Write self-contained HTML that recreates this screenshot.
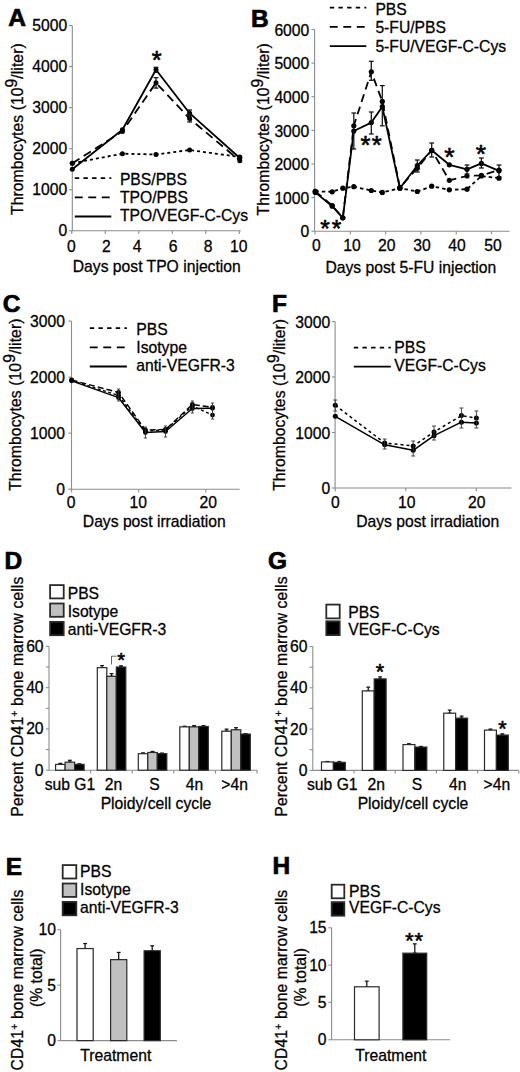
<!DOCTYPE html>
<html><head><meta charset="utf-8"><style>
html,body{margin:0;padding:0;background:#fff;}
svg{display:block;font-family:"Liberation Sans",sans-serif;}
text{stroke:#000;stroke-width:0.28px;}
</style></head><body>
<svg width="520" height="1072" viewBox="0 0 520 1072">
<rect width="520" height="1072" fill="#fff"/>
<text x="8.20" y="26.00" font-size="24.5" text-anchor="start" font-weight="bold" style="stroke-width:0.7px">A</text>
<line x1="72.30" y1="25.50" x2="72.30" y2="230.80" stroke="#8c8c8c" stroke-width="1.1"/>
<line x1="69.10" y1="230.80" x2="72.30" y2="230.80" stroke="#8c8c8c" stroke-width="1.1"/>
<line x1="69.10" y1="189.74" x2="72.30" y2="189.74" stroke="#8c8c8c" stroke-width="1.1"/>
<line x1="69.10" y1="148.68" x2="72.30" y2="148.68" stroke="#8c8c8c" stroke-width="1.1"/>
<line x1="69.10" y1="107.62" x2="72.30" y2="107.62" stroke="#8c8c8c" stroke-width="1.1"/>
<line x1="69.10" y1="66.56" x2="72.30" y2="66.56" stroke="#8c8c8c" stroke-width="1.1"/>
<line x1="69.10" y1="25.50" x2="72.30" y2="25.50" stroke="#8c8c8c" stroke-width="1.1"/>
<text x="67.20" y="236.30" font-size="15.7" text-anchor="end" font-weight="normal" >0</text>
<text x="67.20" y="195.24" font-size="15.7" text-anchor="end" font-weight="normal" >1000</text>
<text x="67.20" y="154.18" font-size="15.7" text-anchor="end" font-weight="normal" >2000</text>
<text x="67.20" y="113.12" font-size="15.7" text-anchor="end" font-weight="normal" >3000</text>
<text x="67.20" y="72.06" font-size="15.7" text-anchor="end" font-weight="normal" >4000</text>
<text x="67.20" y="31.00" font-size="15.7" text-anchor="end" font-weight="normal" >5000</text>
<line x1="72.30" y1="230.80" x2="240.80" y2="230.80" stroke="#8c8c8c" stroke-width="1.1"/>
<line x1="71.80" y1="230.80" x2="71.80" y2="234.00" stroke="#8c8c8c" stroke-width="1.1"/>
<line x1="105.30" y1="230.80" x2="105.30" y2="234.00" stroke="#8c8c8c" stroke-width="1.1"/>
<line x1="138.80" y1="230.80" x2="138.80" y2="234.00" stroke="#8c8c8c" stroke-width="1.1"/>
<line x1="172.30" y1="230.80" x2="172.30" y2="234.00" stroke="#8c8c8c" stroke-width="1.1"/>
<line x1="205.80" y1="230.80" x2="205.80" y2="234.00" stroke="#8c8c8c" stroke-width="1.1"/>
<line x1="239.30" y1="230.80" x2="239.30" y2="234.00" stroke="#8c8c8c" stroke-width="1.1"/>
<text x="71.35" y="251.70" font-size="15.7" text-anchor="middle" font-weight="normal" >0</text>
<text x="106.30" y="251.70" font-size="15.7" text-anchor="middle" font-weight="normal" >2</text>
<text x="137.00" y="251.70" font-size="15.7" text-anchor="middle" font-weight="normal" >4</text>
<text x="173.00" y="251.70" font-size="15.7" text-anchor="middle" font-weight="normal" >6</text>
<text x="208.00" y="251.70" font-size="15.7" text-anchor="middle" font-weight="normal" >8</text>
<text x="238.70" y="251.70" font-size="15.7" text-anchor="middle" font-weight="normal" >10</text>
<text x="156.75" y="272.40" font-size="15.7" text-anchor="middle" font-weight="normal" >Days post TPO injection</text>
<text transform="translate(23.10,215.00) rotate(-90)" font-size="15.7" textLength="171.70" lengthAdjust="spacing"><tspan baseline-shift="0" font-size="15.7">Thrombocytes (10</tspan><tspan baseline-shift="6" font-size="15.7">9</tspan><tspan baseline-shift="0" font-size="15.7">/liter)</tspan></text>
<polyline points="72.30,163.20 122.40,153.70 156.00,154.50 189.60,150.00 239.80,157.00" fill="none" stroke="#000" stroke-width="1.8" stroke-linejoin="round" stroke-dasharray="3,3"/>
<polyline points="72.30,163.20 122.40,131.40 156.00,82.80 189.60,118.60 239.80,160.70" fill="none" stroke="#000" stroke-width="1.8" stroke-linejoin="round" stroke-dasharray="8.5,5"/>
<polyline points="72.30,169.20 122.40,129.80 156.00,69.80 189.60,113.20 239.80,158.00" fill="none" stroke="#000" stroke-width="1.8" stroke-linejoin="round"/>
<circle cx="72.30" cy="163.20" r="2.5" fill="#000"/>
<circle cx="122.40" cy="153.70" r="2.5" fill="#000"/>
<circle cx="156.00" cy="154.50" r="2.5" fill="#000"/>
<circle cx="189.60" cy="150.00" r="2.5" fill="#000"/>
<circle cx="239.80" cy="157.00" r="2.5" fill="#000"/>
<circle cx="72.30" cy="163.20" r="2.5" fill="#000"/>
<circle cx="122.40" cy="131.40" r="2.5" fill="#000"/>
<circle cx="156.00" cy="82.80" r="2.5" fill="#000"/>
<circle cx="189.60" cy="118.60" r="2.5" fill="#000"/>
<circle cx="239.80" cy="160.70" r="2.5" fill="#000"/>
<circle cx="72.30" cy="169.20" r="2.5" fill="#000"/>
<circle cx="122.40" cy="129.80" r="2.5" fill="#000"/>
<circle cx="156.00" cy="69.80" r="2.5" fill="#000"/>
<circle cx="189.60" cy="113.20" r="2.5" fill="#000"/>
<circle cx="239.80" cy="158.00" r="2.5" fill="#000"/>
<line x1="156.00" y1="67.30" x2="156.00" y2="72.30" stroke="#111" stroke-width="1.25"/>
<line x1="153.60" y1="67.30" x2="158.40" y2="67.30" stroke="#111" stroke-width="1.25"/>
<line x1="153.60" y1="72.30" x2="158.40" y2="72.30" stroke="#111" stroke-width="1.25"/>
<line x1="156.00" y1="77.70" x2="156.00" y2="88.10" stroke="#111" stroke-width="1.25"/>
<line x1="153.60" y1="77.70" x2="158.40" y2="77.70" stroke="#111" stroke-width="1.25"/>
<line x1="153.60" y1="88.10" x2="158.40" y2="88.10" stroke="#111" stroke-width="1.25"/>
<line x1="189.60" y1="110.00" x2="189.60" y2="116.00" stroke="#111" stroke-width="1.25"/>
<line x1="187.20" y1="110.00" x2="192.00" y2="110.00" stroke="#111" stroke-width="1.25"/>
<line x1="187.20" y1="116.00" x2="192.00" y2="116.00" stroke="#111" stroke-width="1.25"/>
<line x1="189.60" y1="115.00" x2="189.60" y2="122.00" stroke="#111" stroke-width="1.25"/>
<line x1="187.20" y1="115.00" x2="192.00" y2="115.00" stroke="#111" stroke-width="1.25"/>
<line x1="187.20" y1="122.00" x2="192.00" y2="122.00" stroke="#111" stroke-width="1.25"/>
<text x="156.70" y="68.59" font-size="25.5" text-anchor="middle" font-weight="normal" style="stroke-width:0.6px">*</text>
<line x1="74.80" y1="178.10" x2="111.30" y2="178.10" stroke="#000" stroke-width="1.8" stroke-dasharray="4.4,4.25"/>
<text x="119.90" y="184.60" font-size="15.7" text-anchor="start" font-weight="normal" >PBS/PBS</text>
<line x1="74.80" y1="197.30" x2="111.30" y2="197.30" stroke="#000" stroke-width="1.8" stroke-dasharray="7.9,5.6"/>
<text x="119.90" y="202.95" font-size="15.7" text-anchor="start" font-weight="normal" >TPO/PBS</text>
<line x1="74.80" y1="216.50" x2="111.30" y2="216.50" stroke="#000" stroke-width="1.8"/>
<text x="119.90" y="221.30" font-size="15.7" text-anchor="start" font-weight="normal" >TPO/VEGF-C-Cys</text>
<text x="251.00" y="27.10" font-size="24.5" text-anchor="start" font-weight="bold" style="stroke-width:0.7px">B</text>
<line x1="314.60" y1="29.30" x2="314.60" y2="231.20" stroke="#8c8c8c" stroke-width="1.1"/>
<line x1="311.40" y1="231.20" x2="314.60" y2="231.20" stroke="#8c8c8c" stroke-width="1.1"/>
<line x1="311.40" y1="197.58" x2="314.60" y2="197.58" stroke="#8c8c8c" stroke-width="1.1"/>
<line x1="311.40" y1="163.97" x2="314.60" y2="163.97" stroke="#8c8c8c" stroke-width="1.1"/>
<line x1="311.40" y1="130.35" x2="314.60" y2="130.35" stroke="#8c8c8c" stroke-width="1.1"/>
<line x1="311.40" y1="96.73" x2="314.60" y2="96.73" stroke="#8c8c8c" stroke-width="1.1"/>
<line x1="311.40" y1="63.12" x2="314.60" y2="63.12" stroke="#8c8c8c" stroke-width="1.1"/>
<line x1="311.40" y1="29.50" x2="314.60" y2="29.50" stroke="#8c8c8c" stroke-width="1.1"/>
<text x="309.30" y="237.40" font-size="15.7" text-anchor="end" font-weight="normal" >0</text>
<text x="309.30" y="203.78" font-size="15.7" text-anchor="end" font-weight="normal" >1000</text>
<text x="309.30" y="170.17" font-size="15.7" text-anchor="end" font-weight="normal" >2000</text>
<text x="309.30" y="136.55" font-size="15.7" text-anchor="end" font-weight="normal" >3000</text>
<text x="309.30" y="102.93" font-size="15.7" text-anchor="end" font-weight="normal" >4000</text>
<text x="309.30" y="69.32" font-size="15.7" text-anchor="end" font-weight="normal" >5000</text>
<text x="309.30" y="35.70" font-size="15.7" text-anchor="end" font-weight="normal" >6000</text>
<line x1="314.60" y1="231.20" x2="509.50" y2="231.20" stroke="#8c8c8c" stroke-width="1.1"/>
<line x1="315.00" y1="231.20" x2="315.00" y2="234.40" stroke="#8c8c8c" stroke-width="1.1"/>
<line x1="350.30" y1="231.20" x2="350.30" y2="234.40" stroke="#8c8c8c" stroke-width="1.1"/>
<line x1="385.60" y1="231.20" x2="385.60" y2="234.40" stroke="#8c8c8c" stroke-width="1.1"/>
<line x1="420.90" y1="231.20" x2="420.90" y2="234.40" stroke="#8c8c8c" stroke-width="1.1"/>
<line x1="456.20" y1="231.20" x2="456.20" y2="234.40" stroke="#8c8c8c" stroke-width="1.1"/>
<line x1="491.50" y1="231.20" x2="491.50" y2="234.40" stroke="#8c8c8c" stroke-width="1.1"/>
<text x="316.35" y="251.40" font-size="15.7" text-anchor="middle" font-weight="normal" >0</text>
<text x="352.10" y="251.40" font-size="15.7" text-anchor="middle" font-weight="normal" >10</text>
<text x="386.70" y="251.40" font-size="15.7" text-anchor="middle" font-weight="normal" >20</text>
<text x="422.10" y="251.40" font-size="15.7" text-anchor="middle" font-weight="normal" >30</text>
<text x="456.90" y="251.40" font-size="15.7" text-anchor="middle" font-weight="normal" >40</text>
<text x="493.00" y="251.40" font-size="15.7" text-anchor="middle" font-weight="normal" >50</text>
<text x="410.85" y="272.60" font-size="15.7" text-anchor="middle" font-weight="normal" >Days post 5-FU injection</text>
<text transform="translate(269.20,215.40) rotate(-90)" font-size="15.7" textLength="172.20" lengthAdjust="spacing"><tspan baseline-shift="0" font-size="15.7">Thrombocytes (10</tspan><tspan baseline-shift="6" font-size="15.7">9</tspan><tspan baseline-shift="0" font-size="15.7">/liter)</tspan></text>
<polyline points="315.30,191.40 332.20,191.80 342.80,188.20 353.80,186.70 371.30,190.50 382.30,192.40 399.90,188.20 417.30,191.50 431.70,186.20 449.30,189.80 467.00,189.20 481.40,176.00 499.00,178.20" fill="none" stroke="#000" stroke-width="1.8" stroke-linejoin="round" stroke-dasharray="3.5,3"/>
<polyline points="315.30,191.40 332.20,205.50 342.80,217.80 353.80,125.80 371.30,71.80 382.30,101.40 399.90,187.50 417.30,168.20 431.70,150.30 449.30,180.30 467.00,176.00 481.40,175.40 499.00,170.00" fill="none" stroke="#000" stroke-width="1.8" stroke-linejoin="round" stroke-dasharray="8,5"/>
<polyline points="315.30,192.40 332.20,206.20 342.80,217.80 353.80,131.00 371.30,122.60 382.30,106.70 399.90,188.20 417.30,165.50 431.70,150.30 449.30,164.80 467.00,169.30 481.40,163.40 499.00,170.80" fill="none" stroke="#000" stroke-width="1.8" stroke-linejoin="round"/>
<circle cx="315.30" cy="191.40" r="2.6" fill="#000"/>
<circle cx="332.20" cy="191.80" r="2.6" fill="#000"/>
<circle cx="342.80" cy="188.20" r="2.6" fill="#000"/>
<circle cx="353.80" cy="186.70" r="2.6" fill="#000"/>
<circle cx="371.30" cy="190.50" r="2.6" fill="#000"/>
<circle cx="382.30" cy="192.40" r="2.6" fill="#000"/>
<circle cx="399.90" cy="188.20" r="2.6" fill="#000"/>
<circle cx="417.30" cy="191.50" r="2.6" fill="#000"/>
<circle cx="431.70" cy="186.20" r="2.6" fill="#000"/>
<circle cx="449.30" cy="189.80" r="2.6" fill="#000"/>
<circle cx="467.00" cy="189.20" r="2.6" fill="#000"/>
<circle cx="481.40" cy="176.00" r="2.6" fill="#000"/>
<circle cx="499.00" cy="178.20" r="2.6" fill="#000"/>
<circle cx="315.30" cy="191.40" r="2.6" fill="#000"/>
<circle cx="332.20" cy="205.50" r="2.6" fill="#000"/>
<circle cx="342.80" cy="217.80" r="2.6" fill="#000"/>
<circle cx="353.80" cy="125.80" r="2.6" fill="#000"/>
<circle cx="371.30" cy="71.80" r="2.6" fill="#000"/>
<circle cx="382.30" cy="101.40" r="2.6" fill="#000"/>
<circle cx="399.90" cy="187.50" r="2.6" fill="#000"/>
<circle cx="417.30" cy="168.20" r="2.6" fill="#000"/>
<circle cx="431.70" cy="150.30" r="2.6" fill="#000"/>
<circle cx="449.30" cy="180.30" r="2.6" fill="#000"/>
<circle cx="467.00" cy="176.00" r="2.6" fill="#000"/>
<circle cx="481.40" cy="175.40" r="2.6" fill="#000"/>
<circle cx="499.00" cy="170.00" r="2.6" fill="#000"/>
<circle cx="315.30" cy="192.40" r="2.6" fill="#000"/>
<circle cx="332.20" cy="206.20" r="2.6" fill="#000"/>
<circle cx="342.80" cy="217.80" r="2.6" fill="#000"/>
<circle cx="353.80" cy="131.00" r="2.6" fill="#000"/>
<circle cx="371.30" cy="122.60" r="2.6" fill="#000"/>
<circle cx="382.30" cy="106.70" r="2.6" fill="#000"/>
<circle cx="399.90" cy="188.20" r="2.6" fill="#000"/>
<circle cx="417.30" cy="165.50" r="2.6" fill="#000"/>
<circle cx="431.70" cy="150.30" r="2.6" fill="#000"/>
<circle cx="449.30" cy="164.80" r="2.6" fill="#000"/>
<circle cx="467.00" cy="169.30" r="2.6" fill="#000"/>
<circle cx="481.40" cy="163.40" r="2.6" fill="#000"/>
<circle cx="499.00" cy="170.80" r="2.6" fill="#000"/>
<line x1="353.80" y1="113.00" x2="353.80" y2="149.00" stroke="#111" stroke-width="1.25"/>
<line x1="351.40" y1="113.00" x2="356.20" y2="113.00" stroke="#111" stroke-width="1.25"/>
<line x1="351.40" y1="149.00" x2="356.20" y2="149.00" stroke="#111" stroke-width="1.25"/>
<line x1="371.30" y1="61.30" x2="371.30" y2="80.30" stroke="#111" stroke-width="1.25"/>
<line x1="368.90" y1="61.30" x2="373.70" y2="61.30" stroke="#111" stroke-width="1.25"/>
<line x1="368.90" y1="80.30" x2="373.70" y2="80.30" stroke="#111" stroke-width="1.25"/>
<line x1="371.30" y1="112.00" x2="371.30" y2="134.00" stroke="#111" stroke-width="1.25"/>
<line x1="368.90" y1="112.00" x2="373.70" y2="112.00" stroke="#111" stroke-width="1.25"/>
<line x1="368.90" y1="134.00" x2="373.70" y2="134.00" stroke="#111" stroke-width="1.25"/>
<line x1="382.30" y1="85.60" x2="382.30" y2="125.80" stroke="#111" stroke-width="1.25"/>
<line x1="379.90" y1="85.60" x2="384.70" y2="85.60" stroke="#111" stroke-width="1.25"/>
<line x1="379.90" y1="125.80" x2="384.70" y2="125.80" stroke="#111" stroke-width="1.25"/>
<line x1="417.30" y1="160.00" x2="417.30" y2="172.00" stroke="#111" stroke-width="1.25"/>
<line x1="414.90" y1="160.00" x2="419.70" y2="160.00" stroke="#111" stroke-width="1.25"/>
<line x1="414.90" y1="172.00" x2="419.70" y2="172.00" stroke="#111" stroke-width="1.25"/>
<line x1="431.70" y1="143.00" x2="431.70" y2="157.00" stroke="#111" stroke-width="1.25"/>
<line x1="429.30" y1="143.00" x2="434.10" y2="143.00" stroke="#111" stroke-width="1.25"/>
<line x1="429.30" y1="157.00" x2="434.10" y2="157.00" stroke="#111" stroke-width="1.25"/>
<line x1="481.40" y1="158.00" x2="481.40" y2="168.00" stroke="#111" stroke-width="1.25"/>
<line x1="479.00" y1="158.00" x2="483.80" y2="158.00" stroke="#111" stroke-width="1.25"/>
<line x1="479.00" y1="168.00" x2="483.80" y2="168.00" stroke="#111" stroke-width="1.25"/>
<line x1="499.00" y1="165.00" x2="499.00" y2="177.00" stroke="#111" stroke-width="1.25"/>
<line x1="496.60" y1="165.00" x2="501.40" y2="165.00" stroke="#111" stroke-width="1.25"/>
<line x1="496.60" y1="177.00" x2="501.40" y2="177.00" stroke="#111" stroke-width="1.25"/>
<line x1="467.00" y1="165.00" x2="467.00" y2="174.00" stroke="#111" stroke-width="1.25"/>
<line x1="464.60" y1="165.00" x2="469.40" y2="165.00" stroke="#111" stroke-width="1.25"/>
<line x1="464.60" y1="174.00" x2="469.40" y2="174.00" stroke="#111" stroke-width="1.25"/>
<text x="365.40" y="153.79" font-size="25.5" text-anchor="middle" font-weight="normal" style="stroke-width:0.6px">*</text>
<text x="376.70" y="153.79" font-size="25.5" text-anchor="middle" font-weight="normal" style="stroke-width:0.6px">*</text>
<text x="325.00" y="237.10" font-size="24.5" text-anchor="middle" font-weight="normal" style="stroke-width:0.6px">*</text>
<text x="336.50" y="237.10" font-size="24.5" text-anchor="middle" font-weight="normal" style="stroke-width:0.6px">*</text>
<text x="449.50" y="165.98" font-size="26.5" text-anchor="middle" font-weight="normal" style="stroke-width:0.6px">*</text>
<text x="481.00" y="162.58" font-size="26.5" text-anchor="middle" font-weight="normal" style="stroke-width:0.6px">*</text>
<line x1="329.80" y1="7.70" x2="366.30" y2="7.70" stroke="#000" stroke-width="1.8" stroke-dasharray="4.4,4.25"/>
<text x="375.40" y="14.60" font-size="15.7" text-anchor="start" font-weight="normal" >PBS</text>
<line x1="329.80" y1="26.95" x2="366.30" y2="26.95" stroke="#000" stroke-width="1.8" stroke-dasharray="7.9,5.6"/>
<text x="375.40" y="33.10" font-size="15.7" text-anchor="start" font-weight="normal" >5-FU/PBS</text>
<line x1="329.80" y1="46.20" x2="366.30" y2="46.20" stroke="#000" stroke-width="1.8"/>
<text x="375.40" y="51.60" font-size="15.7" text-anchor="start" font-weight="normal" >5-FU/VEGF-C-Cys</text>
<text x="2.80" y="311.80" font-size="24.5" text-anchor="start" font-weight="bold" style="stroke-width:0.7px">C</text>
<line x1="71.50" y1="321.10" x2="71.50" y2="489.20" stroke="#8c8c8c" stroke-width="1.1"/>
<line x1="68.30" y1="489.20" x2="71.50" y2="489.20" stroke="#8c8c8c" stroke-width="1.1"/>
<line x1="68.30" y1="433.17" x2="71.50" y2="433.17" stroke="#8c8c8c" stroke-width="1.1"/>
<line x1="68.30" y1="377.13" x2="71.50" y2="377.13" stroke="#8c8c8c" stroke-width="1.1"/>
<line x1="68.30" y1="321.10" x2="71.50" y2="321.10" stroke="#8c8c8c" stroke-width="1.1"/>
<text x="65.00" y="494.70" font-size="15.7" text-anchor="end" font-weight="normal" >0</text>
<text x="65.00" y="438.67" font-size="15.7" text-anchor="end" font-weight="normal" >1000</text>
<text x="65.00" y="382.63" font-size="15.7" text-anchor="end" font-weight="normal" >2000</text>
<text x="65.00" y="326.60" font-size="15.7" text-anchor="end" font-weight="normal" >3000</text>
<line x1="71.50" y1="489.20" x2="239.70" y2="489.20" stroke="#8c8c8c" stroke-width="1.1"/>
<line x1="71.60" y1="489.20" x2="71.60" y2="492.40" stroke="#8c8c8c" stroke-width="1.1"/>
<line x1="138.70" y1="489.20" x2="138.70" y2="492.40" stroke="#8c8c8c" stroke-width="1.1"/>
<line x1="205.80" y1="489.20" x2="205.80" y2="492.40" stroke="#8c8c8c" stroke-width="1.1"/>
<text x="71.20" y="507.90" font-size="15.7" text-anchor="middle" font-weight="normal" >0</text>
<text x="138.20" y="507.90" font-size="15.7" text-anchor="middle" font-weight="normal" >10</text>
<text x="208.30" y="507.90" font-size="15.7" text-anchor="middle" font-weight="normal" >20</text>
<text x="154.30" y="527.20" font-size="15.7" text-anchor="middle" font-weight="normal" >Days post irradiation</text>
<text transform="translate(21.00,490.80) rotate(-90)" font-size="15.7" textLength="172.30" lengthAdjust="spacing"><tspan baseline-shift="0" font-size="15.7">Thrombocytes (10</tspan><tspan baseline-shift="6" font-size="15.7">9</tspan><tspan baseline-shift="0" font-size="15.7">/liter)</tspan></text>
<polyline points="71.60,380.40 118.57,395.50 145.41,431.00 165.54,430.00 192.38,406.00 212.51,415.10" fill="none" stroke="#000" stroke-width="1.4" stroke-linejoin="round" stroke-dasharray="3,2.5"/>
<polyline points="71.60,380.00 118.57,392.50 145.41,430.00 165.54,429.50 192.38,404.50 212.51,407.30" fill="none" stroke="#000" stroke-width="1.4" stroke-linejoin="round" stroke-dasharray="6,3"/>
<polyline points="71.60,380.80 118.57,397.70 145.41,432.50 165.54,431.50 192.38,408.50 212.51,408.30" fill="none" stroke="#000" stroke-width="1.4" stroke-linejoin="round"/>
<circle cx="71.60" cy="380.40" r="2.4" fill="#000"/>
<circle cx="118.57" cy="395.50" r="2.4" fill="#000"/>
<circle cx="145.41" cy="431.00" r="2.4" fill="#000"/>
<circle cx="165.54" cy="430.00" r="2.4" fill="#000"/>
<circle cx="192.38" cy="406.00" r="2.4" fill="#000"/>
<circle cx="212.51" cy="415.10" r="2.4" fill="#000"/>
<circle cx="71.60" cy="380.00" r="2.4" fill="#000"/>
<circle cx="118.57" cy="392.50" r="2.4" fill="#000"/>
<circle cx="145.41" cy="430.00" r="2.4" fill="#000"/>
<circle cx="165.54" cy="429.50" r="2.4" fill="#000"/>
<circle cx="192.38" cy="404.50" r="2.4" fill="#000"/>
<circle cx="212.51" cy="407.30" r="2.4" fill="#000"/>
<circle cx="71.60" cy="380.80" r="2.4" fill="#000"/>
<circle cx="118.57" cy="397.70" r="2.4" fill="#000"/>
<circle cx="145.41" cy="432.50" r="2.4" fill="#000"/>
<circle cx="165.54" cy="431.50" r="2.4" fill="#000"/>
<circle cx="192.38" cy="408.50" r="2.4" fill="#000"/>
<circle cx="212.51" cy="408.30" r="2.4" fill="#000"/>
<line x1="118.57" y1="389.00" x2="118.57" y2="401.00" stroke="#333" stroke-width="0.9"/>
<line x1="116.97" y1="389.00" x2="120.17" y2="389.00" stroke="#333" stroke-width="0.9"/>
<line x1="116.97" y1="401.00" x2="120.17" y2="401.00" stroke="#333" stroke-width="0.9"/>
<line x1="145.41" y1="427.00" x2="145.41" y2="438.00" stroke="#333" stroke-width="0.9"/>
<line x1="143.81" y1="427.00" x2="147.01" y2="427.00" stroke="#333" stroke-width="0.9"/>
<line x1="143.81" y1="438.00" x2="147.01" y2="438.00" stroke="#333" stroke-width="0.9"/>
<line x1="165.54" y1="426.00" x2="165.54" y2="437.00" stroke="#333" stroke-width="0.9"/>
<line x1="163.94" y1="426.00" x2="167.14" y2="426.00" stroke="#333" stroke-width="0.9"/>
<line x1="163.94" y1="437.00" x2="167.14" y2="437.00" stroke="#333" stroke-width="0.9"/>
<line x1="192.38" y1="401.00" x2="192.38" y2="413.00" stroke="#333" stroke-width="0.9"/>
<line x1="190.78" y1="401.00" x2="193.98" y2="401.00" stroke="#333" stroke-width="0.9"/>
<line x1="190.78" y1="413.00" x2="193.98" y2="413.00" stroke="#333" stroke-width="0.9"/>
<line x1="212.51" y1="403.00" x2="212.51" y2="419.00" stroke="#333" stroke-width="0.9"/>
<line x1="210.91" y1="403.00" x2="214.11" y2="403.00" stroke="#333" stroke-width="0.9"/>
<line x1="210.91" y1="419.00" x2="214.11" y2="419.00" stroke="#333" stroke-width="0.9"/>
<line x1="89.80" y1="328.10" x2="126.90" y2="328.10" stroke="#000" stroke-width="1.8" stroke-dasharray="4.4,4.25"/>
<text x="136.30" y="334.60" font-size="15.7" text-anchor="start" font-weight="normal" >PBS</text>
<line x1="89.80" y1="347.30" x2="126.90" y2="347.30" stroke="#000" stroke-width="1.8" stroke-dasharray="7.9,5.6"/>
<text x="136.30" y="352.90" font-size="15.7" text-anchor="start" font-weight="normal" >Isotype</text>
<line x1="89.80" y1="366.50" x2="126.90" y2="366.50" stroke="#000" stroke-width="1.8"/>
<text x="136.30" y="371.20" font-size="15.7" text-anchor="start" font-weight="normal" >anti-VEGFR-3</text>
<text x="271.90" y="312.20" font-size="24.5" text-anchor="start" font-weight="bold" style="stroke-width:0.7px">F</text>
<line x1="335.10" y1="321.50" x2="335.10" y2="488.00" stroke="#8c8c8c" stroke-width="1.1"/>
<line x1="331.90" y1="488.00" x2="335.10" y2="488.00" stroke="#8c8c8c" stroke-width="1.1"/>
<line x1="331.90" y1="432.50" x2="335.10" y2="432.50" stroke="#8c8c8c" stroke-width="1.1"/>
<line x1="331.90" y1="377.00" x2="335.10" y2="377.00" stroke="#8c8c8c" stroke-width="1.1"/>
<line x1="331.90" y1="321.50" x2="335.10" y2="321.50" stroke="#8c8c8c" stroke-width="1.1"/>
<text x="330.20" y="494.40" font-size="15.7" text-anchor="end" font-weight="normal" >0</text>
<text x="330.20" y="438.90" font-size="15.7" text-anchor="end" font-weight="normal" >1000</text>
<text x="330.20" y="383.40" font-size="15.7" text-anchor="end" font-weight="normal" >2000</text>
<text x="330.20" y="327.90" font-size="15.7" text-anchor="end" font-weight="normal" >3000</text>
<line x1="335.20" y1="488.00" x2="511.50" y2="488.00" stroke="#8c8c8c" stroke-width="1.1"/>
<line x1="335.30" y1="488.00" x2="335.30" y2="491.20" stroke="#8c8c8c" stroke-width="1.1"/>
<line x1="405.80" y1="488.00" x2="405.80" y2="491.20" stroke="#8c8c8c" stroke-width="1.1"/>
<line x1="476.30" y1="488.00" x2="476.30" y2="491.20" stroke="#8c8c8c" stroke-width="1.1"/>
<text x="335.30" y="507.70" font-size="15.7" text-anchor="middle" font-weight="normal" >0</text>
<text x="406.80" y="507.70" font-size="15.7" text-anchor="middle" font-weight="normal" >10</text>
<text x="476.80" y="507.70" font-size="15.7" text-anchor="middle" font-weight="normal" >20</text>
<text x="427.65" y="527.20" font-size="15.7" text-anchor="middle" font-weight="normal" >Days post irradiation</text>
<text transform="translate(285.30,490.80) rotate(-90)" font-size="15.7" textLength="171.90" lengthAdjust="spacing"><tspan baseline-shift="0" font-size="15.7">Thrombocytes (10</tspan><tspan baseline-shift="6" font-size="15.7">9</tspan><tspan baseline-shift="0" font-size="15.7">/liter)</tspan></text>
<polyline points="335.30,405.30 384.70,443.00 413.20,445.90 434.00,432.00 461.40,415.60 476.40,418.10" fill="none" stroke="#000" stroke-width="1.5" stroke-linejoin="round" stroke-dasharray="3,3"/>
<polyline points="335.30,416.30 384.70,444.80 413.20,450.30 434.00,435.70 461.40,422.20 476.40,422.90" fill="none" stroke="#000" stroke-width="1.5" stroke-linejoin="round"/>
<circle cx="335.30" cy="405.30" r="2.5" fill="#000"/>
<circle cx="384.70" cy="443.00" r="2.5" fill="#000"/>
<circle cx="413.20" cy="445.90" r="2.5" fill="#000"/>
<circle cx="434.00" cy="432.00" r="2.5" fill="#000"/>
<circle cx="461.40" cy="415.60" r="2.5" fill="#000"/>
<circle cx="476.40" cy="418.10" r="2.5" fill="#000"/>
<circle cx="335.30" cy="416.30" r="2.5" fill="#000"/>
<circle cx="384.70" cy="444.80" r="2.5" fill="#000"/>
<circle cx="413.20" cy="450.30" r="2.5" fill="#000"/>
<circle cx="434.00" cy="435.70" r="2.5" fill="#000"/>
<circle cx="461.40" cy="422.20" r="2.5" fill="#000"/>
<circle cx="476.40" cy="422.90" r="2.5" fill="#000"/>
<line x1="335.30" y1="400.00" x2="335.30" y2="411.00" stroke="#333" stroke-width="0.9"/>
<line x1="333.30" y1="400.00" x2="337.30" y2="400.00" stroke="#333" stroke-width="0.9"/>
<line x1="333.30" y1="411.00" x2="337.30" y2="411.00" stroke="#333" stroke-width="0.9"/>
<line x1="384.70" y1="439.00" x2="384.70" y2="449.00" stroke="#333" stroke-width="0.9"/>
<line x1="382.70" y1="439.00" x2="386.70" y2="439.00" stroke="#333" stroke-width="0.9"/>
<line x1="382.70" y1="449.00" x2="386.70" y2="449.00" stroke="#333" stroke-width="0.9"/>
<line x1="413.20" y1="441.00" x2="413.20" y2="456.00" stroke="#333" stroke-width="0.9"/>
<line x1="411.20" y1="441.00" x2="415.20" y2="441.00" stroke="#333" stroke-width="0.9"/>
<line x1="411.20" y1="456.00" x2="415.20" y2="456.00" stroke="#333" stroke-width="0.9"/>
<line x1="434.00" y1="426.00" x2="434.00" y2="440.00" stroke="#333" stroke-width="0.9"/>
<line x1="432.00" y1="426.00" x2="436.00" y2="426.00" stroke="#333" stroke-width="0.9"/>
<line x1="432.00" y1="440.00" x2="436.00" y2="440.00" stroke="#333" stroke-width="0.9"/>
<line x1="461.40" y1="408.00" x2="461.40" y2="428.00" stroke="#333" stroke-width="0.9"/>
<line x1="459.40" y1="408.00" x2="463.40" y2="408.00" stroke="#333" stroke-width="0.9"/>
<line x1="459.40" y1="428.00" x2="463.40" y2="428.00" stroke="#333" stroke-width="0.9"/>
<line x1="476.40" y1="411.00" x2="476.40" y2="428.00" stroke="#333" stroke-width="0.9"/>
<line x1="474.40" y1="411.00" x2="478.40" y2="411.00" stroke="#333" stroke-width="0.9"/>
<line x1="474.40" y1="428.00" x2="478.40" y2="428.00" stroke="#333" stroke-width="0.9"/>
<line x1="353.80" y1="347.60" x2="390.80" y2="347.60" stroke="#000" stroke-width="1.8" stroke-dasharray="4.4,4.25"/>
<text x="394.30" y="353.00" font-size="15.7" text-anchor="start" font-weight="normal" >PBS</text>
<line x1="353.80" y1="366.70" x2="390.80" y2="366.70" stroke="#000" stroke-width="1.8"/>
<text x="394.30" y="371.40" font-size="15.7" text-anchor="start" font-weight="normal" >VEGF-C-Cys</text>
<text x="4.50" y="568.80" font-size="24.5" text-anchor="start" font-weight="bold" style="stroke-width:0.7px">D</text>
<line x1="49.00" y1="646.40" x2="49.00" y2="770.20" stroke="#8c8c8c" stroke-width="1.1"/>
<line x1="45.80" y1="770.20" x2="49.00" y2="770.20" stroke="#8c8c8c" stroke-width="1.1"/>
<line x1="45.80" y1="749.57" x2="49.00" y2="749.57" stroke="#8c8c8c" stroke-width="1.1"/>
<line x1="45.80" y1="728.93" x2="49.00" y2="728.93" stroke="#8c8c8c" stroke-width="1.1"/>
<line x1="45.80" y1="708.30" x2="49.00" y2="708.30" stroke="#8c8c8c" stroke-width="1.1"/>
<line x1="45.80" y1="687.67" x2="49.00" y2="687.67" stroke="#8c8c8c" stroke-width="1.1"/>
<line x1="45.80" y1="667.03" x2="49.00" y2="667.03" stroke="#8c8c8c" stroke-width="1.1"/>
<line x1="45.80" y1="646.40" x2="49.00" y2="646.40" stroke="#8c8c8c" stroke-width="1.1"/>
<text x="43.60" y="775.70" font-size="15.7" text-anchor="end" font-weight="normal" >0</text>
<text x="43.60" y="734.43" font-size="15.7" text-anchor="end" font-weight="normal" >20</text>
<text x="43.60" y="693.17" font-size="15.7" text-anchor="end" font-weight="normal" >40</text>
<text x="43.60" y="651.90" font-size="15.7" text-anchor="end" font-weight="normal" >60</text>
<line x1="49.00" y1="770.20" x2="257.30" y2="770.20" stroke="#8c8c8c" stroke-width="1.1"/>
<line x1="90.60" y1="770.20" x2="90.60" y2="773.40" stroke="#8c8c8c" stroke-width="1.1"/>
<line x1="132.20" y1="770.20" x2="132.20" y2="773.40" stroke="#8c8c8c" stroke-width="1.1"/>
<line x1="173.80" y1="770.20" x2="173.80" y2="773.40" stroke="#8c8c8c" stroke-width="1.1"/>
<line x1="215.40" y1="770.20" x2="215.40" y2="773.40" stroke="#8c8c8c" stroke-width="1.1"/>
<line x1="257.00" y1="770.20" x2="257.00" y2="773.40" stroke="#8c8c8c" stroke-width="1.1"/>
<text x="70.00" y="790.20" font-size="15.7" text-anchor="middle" font-weight="normal" >sub G1</text>
<text x="113.60" y="790.20" font-size="15.7" text-anchor="middle" font-weight="normal" >2n</text>
<text x="154.60" y="790.20" font-size="15.7" text-anchor="middle" font-weight="normal" >S</text>
<text x="194.50" y="790.20" font-size="15.7" text-anchor="middle" font-weight="normal" >4n</text>
<text x="234.60" y="790.20" font-size="15.7" text-anchor="middle" font-weight="normal" >&gt;4n</text>
<text x="156.00" y="809.40" font-size="15.7" text-anchor="middle" font-weight="normal" >Ploidy/cell cycle</text>
<text transform="translate(23.10,816.70) rotate(-90)" font-size="15.7" textLength="240.00" lengthAdjust="spacing"><tspan baseline-shift="0" font-size="15.7">Percent CD41</tspan><tspan baseline-shift="5.2" font-size="10.5">+</tspan><tspan baseline-shift="0" font-size="15.7"> bone marrow cells</tspan></text>
<line x1="60.35" y1="763.39" x2="60.35" y2="764.42" stroke="#111" stroke-width="1.25"/>
<line x1="58.45" y1="763.39" x2="62.25" y2="763.39" stroke="#111" stroke-width="1.25"/>
<line x1="58.45" y1="764.42" x2="62.25" y2="764.42" stroke="#111" stroke-width="1.25"/>
<rect x="55.60" y="764.42" width="9.50" height="5.78" fill="#fff" stroke="#2a2a2a" stroke-width="1.2"/>
<line x1="69.85" y1="760.30" x2="69.85" y2="762.15" stroke="#111" stroke-width="1.25"/>
<line x1="67.95" y1="760.30" x2="71.75" y2="760.30" stroke="#111" stroke-width="1.25"/>
<line x1="67.95" y1="762.15" x2="71.75" y2="762.15" stroke="#111" stroke-width="1.25"/>
<rect x="65.10" y="762.15" width="9.50" height="8.05" fill="#c0c0c0" stroke="#2a2a2a" stroke-width="1.2"/>
<line x1="79.35" y1="763.80" x2="79.35" y2="764.42" stroke="#111" stroke-width="1.25"/>
<line x1="77.45" y1="763.80" x2="81.25" y2="763.80" stroke="#111" stroke-width="1.25"/>
<line x1="77.45" y1="764.42" x2="81.25" y2="764.42" stroke="#111" stroke-width="1.25"/>
<rect x="74.60" y="764.42" width="9.50" height="5.78" fill="#000" stroke="#2a2a2a" stroke-width="1.2"/>
<line x1="102.05" y1="665.59" x2="102.05" y2="667.65" stroke="#111" stroke-width="1.25"/>
<line x1="100.15" y1="665.59" x2="103.95" y2="665.59" stroke="#111" stroke-width="1.25"/>
<line x1="100.15" y1="667.65" x2="103.95" y2="667.65" stroke="#111" stroke-width="1.25"/>
<rect x="97.30" y="667.65" width="9.50" height="102.55" fill="#fff" stroke="#2a2a2a" stroke-width="1.2"/>
<line x1="111.55" y1="673.64" x2="111.55" y2="676.32" stroke="#111" stroke-width="1.25"/>
<line x1="109.65" y1="673.64" x2="113.45" y2="673.64" stroke="#111" stroke-width="1.25"/>
<line x1="109.65" y1="676.32" x2="113.45" y2="676.32" stroke="#111" stroke-width="1.25"/>
<rect x="106.80" y="676.32" width="9.50" height="93.88" fill="#c0c0c0" stroke="#2a2a2a" stroke-width="1.2"/>
<line x1="121.05" y1="665.80" x2="121.05" y2="667.03" stroke="#111" stroke-width="1.25"/>
<line x1="119.15" y1="665.80" x2="122.95" y2="665.80" stroke="#111" stroke-width="1.25"/>
<line x1="119.15" y1="667.03" x2="122.95" y2="667.03" stroke="#111" stroke-width="1.25"/>
<rect x="116.30" y="667.03" width="9.50" height="103.17" fill="#000" stroke="#2a2a2a" stroke-width="1.2"/>
<line x1="143.05" y1="752.87" x2="143.05" y2="753.69" stroke="#111" stroke-width="1.25"/>
<line x1="141.15" y1="752.87" x2="144.95" y2="752.87" stroke="#111" stroke-width="1.25"/>
<line x1="141.15" y1="753.69" x2="144.95" y2="753.69" stroke="#111" stroke-width="1.25"/>
<rect x="138.30" y="753.69" width="9.50" height="16.51" fill="#fff" stroke="#2a2a2a" stroke-width="1.2"/>
<line x1="152.55" y1="751.42" x2="152.55" y2="752.46" stroke="#111" stroke-width="1.25"/>
<line x1="150.65" y1="751.42" x2="154.45" y2="751.42" stroke="#111" stroke-width="1.25"/>
<line x1="150.65" y1="752.46" x2="154.45" y2="752.46" stroke="#111" stroke-width="1.25"/>
<rect x="147.80" y="752.46" width="9.50" height="17.74" fill="#c0c0c0" stroke="#2a2a2a" stroke-width="1.2"/>
<line x1="162.05" y1="753.07" x2="162.05" y2="753.69" stroke="#111" stroke-width="1.25"/>
<line x1="160.15" y1="753.07" x2="163.95" y2="753.07" stroke="#111" stroke-width="1.25"/>
<line x1="160.15" y1="753.69" x2="163.95" y2="753.69" stroke="#111" stroke-width="1.25"/>
<rect x="157.30" y="753.69" width="9.50" height="16.51" fill="#000" stroke="#2a2a2a" stroke-width="1.2"/>
<line x1="184.55" y1="726.25" x2="184.55" y2="726.87" stroke="#111" stroke-width="1.25"/>
<line x1="182.65" y1="726.25" x2="186.45" y2="726.25" stroke="#111" stroke-width="1.25"/>
<line x1="182.65" y1="726.87" x2="186.45" y2="726.87" stroke="#111" stroke-width="1.25"/>
<rect x="179.80" y="726.87" width="9.50" height="43.33" fill="#fff" stroke="#2a2a2a" stroke-width="1.2"/>
<line x1="194.05" y1="725.63" x2="194.05" y2="726.87" stroke="#111" stroke-width="1.25"/>
<line x1="192.15" y1="725.63" x2="195.95" y2="725.63" stroke="#111" stroke-width="1.25"/>
<line x1="192.15" y1="726.87" x2="195.95" y2="726.87" stroke="#111" stroke-width="1.25"/>
<rect x="189.30" y="726.87" width="9.50" height="43.33" fill="#c0c0c0" stroke="#2a2a2a" stroke-width="1.2"/>
<line x1="203.55" y1="725.63" x2="203.55" y2="726.46" stroke="#111" stroke-width="1.25"/>
<line x1="201.65" y1="725.63" x2="205.45" y2="725.63" stroke="#111" stroke-width="1.25"/>
<line x1="201.65" y1="726.46" x2="205.45" y2="726.46" stroke="#111" stroke-width="1.25"/>
<rect x="198.80" y="726.46" width="9.50" height="43.74" fill="#000" stroke="#2a2a2a" stroke-width="1.2"/>
<line x1="226.55" y1="729.14" x2="226.55" y2="731.20" stroke="#111" stroke-width="1.25"/>
<line x1="224.65" y1="729.14" x2="228.45" y2="729.14" stroke="#111" stroke-width="1.25"/>
<line x1="224.65" y1="731.20" x2="228.45" y2="731.20" stroke="#111" stroke-width="1.25"/>
<rect x="221.80" y="731.20" width="9.50" height="39.00" fill="#fff" stroke="#2a2a2a" stroke-width="1.2"/>
<line x1="236.05" y1="727.70" x2="236.05" y2="729.76" stroke="#111" stroke-width="1.25"/>
<line x1="234.15" y1="727.70" x2="237.95" y2="727.70" stroke="#111" stroke-width="1.25"/>
<line x1="234.15" y1="729.76" x2="237.95" y2="729.76" stroke="#111" stroke-width="1.25"/>
<rect x="231.30" y="729.76" width="9.50" height="40.44" fill="#c0c0c0" stroke="#2a2a2a" stroke-width="1.2"/>
<line x1="245.55" y1="733.68" x2="245.55" y2="734.09" stroke="#111" stroke-width="1.25"/>
<line x1="243.65" y1="733.68" x2="247.45" y2="733.68" stroke="#111" stroke-width="1.25"/>
<line x1="243.65" y1="734.09" x2="247.45" y2="734.09" stroke="#111" stroke-width="1.25"/>
<rect x="240.80" y="734.09" width="9.50" height="36.11" fill="#000" stroke="#2a2a2a" stroke-width="1.2"/>
<line x1="111.50" y1="664.50" x2="111.50" y2="656.20" stroke="#555" stroke-width="0.9"/>
<line x1="111.50" y1="656.20" x2="116.50" y2="656.20" stroke="#555" stroke-width="0.9"/>
<text x="121.05" y="667.00" font-size="20" text-anchor="middle" font-weight="normal" style="stroke-width:0.6px">*</text>
<rect x="50.10" y="585.10" width="13.60" height="13.30" fill="#fff" stroke="#2a2a2a" stroke-width="1.8"/>
<text x="67.70" y="598.60" font-size="15.7" text-anchor="start" font-weight="normal" >PBS</text>
<rect x="50.10" y="603.50" width="13.60" height="13.30" fill="#c0c0c0" stroke="#2a2a2a" stroke-width="1.8"/>
<text x="67.70" y="616.65" font-size="15.7" text-anchor="start" font-weight="normal" >Isotype</text>
<rect x="50.10" y="621.90" width="13.60" height="13.30" fill="#000" stroke="#2a2a2a" stroke-width="1.8"/>
<text x="67.70" y="634.70" font-size="15.7" text-anchor="start" font-weight="normal" >anti-VEGFR-3</text>
<text x="268.00" y="568.80" font-size="24.5" text-anchor="start" font-weight="bold" style="stroke-width:0.7px">G</text>
<line x1="312.80" y1="646.50" x2="312.80" y2="770.40" stroke="#8c8c8c" stroke-width="1.1"/>
<line x1="309.60" y1="770.40" x2="312.80" y2="770.40" stroke="#8c8c8c" stroke-width="1.1"/>
<line x1="309.60" y1="749.75" x2="312.80" y2="749.75" stroke="#8c8c8c" stroke-width="1.1"/>
<line x1="309.60" y1="729.10" x2="312.80" y2="729.10" stroke="#8c8c8c" stroke-width="1.1"/>
<line x1="309.60" y1="708.45" x2="312.80" y2="708.45" stroke="#8c8c8c" stroke-width="1.1"/>
<line x1="309.60" y1="687.80" x2="312.80" y2="687.80" stroke="#8c8c8c" stroke-width="1.1"/>
<line x1="309.60" y1="667.15" x2="312.80" y2="667.15" stroke="#8c8c8c" stroke-width="1.1"/>
<line x1="309.60" y1="646.50" x2="312.80" y2="646.50" stroke="#8c8c8c" stroke-width="1.1"/>
<text x="307.50" y="775.90" font-size="15.7" text-anchor="end" font-weight="normal" >0</text>
<text x="307.50" y="734.60" font-size="15.7" text-anchor="end" font-weight="normal" >20</text>
<text x="307.50" y="693.30" font-size="15.7" text-anchor="end" font-weight="normal" >40</text>
<text x="307.50" y="652.00" font-size="15.7" text-anchor="end" font-weight="normal" >60</text>
<line x1="312.80" y1="770.40" x2="518.80" y2="770.40" stroke="#8c8c8c" stroke-width="1.1"/>
<line x1="354.00" y1="770.40" x2="354.00" y2="773.60" stroke="#8c8c8c" stroke-width="1.1"/>
<line x1="395.20" y1="770.40" x2="395.20" y2="773.60" stroke="#8c8c8c" stroke-width="1.1"/>
<line x1="436.40" y1="770.40" x2="436.40" y2="773.60" stroke="#8c8c8c" stroke-width="1.1"/>
<line x1="477.60" y1="770.40" x2="477.60" y2="773.60" stroke="#8c8c8c" stroke-width="1.1"/>
<line x1="518.80" y1="770.40" x2="518.80" y2="773.60" stroke="#8c8c8c" stroke-width="1.1"/>
<text x="332.30" y="790.20" font-size="15.7" text-anchor="middle" font-weight="normal" >sub G1</text>
<text x="376.20" y="790.20" font-size="15.7" text-anchor="middle" font-weight="normal" >2n</text>
<text x="417.00" y="790.20" font-size="15.7" text-anchor="middle" font-weight="normal" >S</text>
<text x="457.70" y="790.20" font-size="15.7" text-anchor="middle" font-weight="normal" >4n</text>
<text x="496.90" y="790.20" font-size="15.7" text-anchor="middle" font-weight="normal" >&gt;4n</text>
<text x="413.00" y="809.40" font-size="15.7" text-anchor="middle" font-weight="normal" >Ploidy/cell cycle</text>
<text transform="translate(287.40,816.70) rotate(-90)" font-size="15.7" textLength="240.20" lengthAdjust="spacing"><tspan baseline-shift="0" font-size="15.7">Percent CD41</tspan><tspan baseline-shift="5.2" font-size="10.5">+</tspan><tspan baseline-shift="0" font-size="15.7"> bone marrow cells</tspan></text>
<line x1="327.45" y1="761.52" x2="327.45" y2="761.93" stroke="#111" stroke-width="1.25"/>
<line x1="325.55" y1="761.52" x2="329.35" y2="761.52" stroke="#111" stroke-width="1.25"/>
<line x1="325.55" y1="761.93" x2="329.35" y2="761.93" stroke="#111" stroke-width="1.25"/>
<rect x="321.50" y="761.93" width="11.90" height="8.47" fill="#fff" stroke="#2a2a2a" stroke-width="1.2"/>
<line x1="339.35" y1="761.52" x2="339.35" y2="762.35" stroke="#111" stroke-width="1.25"/>
<line x1="337.45" y1="761.52" x2="341.25" y2="761.52" stroke="#111" stroke-width="1.25"/>
<line x1="337.45" y1="762.35" x2="341.25" y2="762.35" stroke="#111" stroke-width="1.25"/>
<rect x="333.40" y="762.35" width="11.90" height="8.05" fill="#000" stroke="#2a2a2a" stroke-width="1.2"/>
<line x1="368.25" y1="687.18" x2="368.25" y2="690.90" stroke="#111" stroke-width="1.25"/>
<line x1="366.35" y1="687.18" x2="370.15" y2="687.18" stroke="#111" stroke-width="1.25"/>
<line x1="366.35" y1="690.90" x2="370.15" y2="690.90" stroke="#111" stroke-width="1.25"/>
<rect x="362.30" y="690.90" width="11.90" height="79.50" fill="#fff" stroke="#2a2a2a" stroke-width="1.2"/>
<line x1="380.15" y1="676.86" x2="380.15" y2="678.92" stroke="#111" stroke-width="1.25"/>
<line x1="378.25" y1="676.86" x2="382.05" y2="676.86" stroke="#111" stroke-width="1.25"/>
<line x1="378.25" y1="678.92" x2="382.05" y2="678.92" stroke="#111" stroke-width="1.25"/>
<rect x="374.20" y="678.92" width="11.90" height="91.48" fill="#000" stroke="#2a2a2a" stroke-width="1.2"/>
<line x1="408.95" y1="743.76" x2="408.95" y2="744.59" stroke="#111" stroke-width="1.25"/>
<line x1="407.05" y1="743.76" x2="410.85" y2="743.76" stroke="#111" stroke-width="1.25"/>
<line x1="407.05" y1="744.59" x2="410.85" y2="744.59" stroke="#111" stroke-width="1.25"/>
<rect x="403.00" y="744.59" width="11.90" height="25.81" fill="#fff" stroke="#2a2a2a" stroke-width="1.2"/>
<line x1="420.85" y1="746.45" x2="420.85" y2="747.07" stroke="#111" stroke-width="1.25"/>
<line x1="418.95" y1="746.45" x2="422.75" y2="746.45" stroke="#111" stroke-width="1.25"/>
<line x1="418.95" y1="747.07" x2="422.75" y2="747.07" stroke="#111" stroke-width="1.25"/>
<rect x="414.90" y="747.07" width="11.90" height="23.33" fill="#000" stroke="#2a2a2a" stroke-width="1.2"/>
<line x1="449.70" y1="710.10" x2="449.70" y2="713.20" stroke="#111" stroke-width="1.25"/>
<line x1="447.80" y1="710.10" x2="451.60" y2="710.10" stroke="#111" stroke-width="1.25"/>
<line x1="447.80" y1="713.20" x2="451.60" y2="713.20" stroke="#111" stroke-width="1.25"/>
<rect x="443.75" y="713.20" width="11.90" height="57.20" fill="#fff" stroke="#2a2a2a" stroke-width="1.2"/>
<line x1="461.60" y1="716.09" x2="461.60" y2="718.16" stroke="#111" stroke-width="1.25"/>
<line x1="459.70" y1="716.09" x2="463.50" y2="716.09" stroke="#111" stroke-width="1.25"/>
<line x1="459.70" y1="718.16" x2="463.50" y2="718.16" stroke="#111" stroke-width="1.25"/>
<rect x="455.65" y="718.16" width="11.90" height="52.24" fill="#000" stroke="#2a2a2a" stroke-width="1.2"/>
<line x1="490.45" y1="729.10" x2="490.45" y2="730.13" stroke="#111" stroke-width="1.25"/>
<line x1="488.55" y1="729.10" x2="492.35" y2="729.10" stroke="#111" stroke-width="1.25"/>
<line x1="488.55" y1="730.13" x2="492.35" y2="730.13" stroke="#111" stroke-width="1.25"/>
<rect x="484.50" y="730.13" width="11.90" height="40.27" fill="#fff" stroke="#2a2a2a" stroke-width="1.2"/>
<line x1="502.35" y1="733.85" x2="502.35" y2="735.09" stroke="#111" stroke-width="1.25"/>
<line x1="500.45" y1="733.85" x2="504.25" y2="733.85" stroke="#111" stroke-width="1.25"/>
<line x1="500.45" y1="735.09" x2="504.25" y2="735.09" stroke="#111" stroke-width="1.25"/>
<rect x="496.40" y="735.09" width="11.90" height="35.31" fill="#000" stroke="#2a2a2a" stroke-width="1.2"/>
<text x="379.90" y="679.24" font-size="21.5" text-anchor="middle" font-weight="normal" style="stroke-width:0.6px">*</text>
<text x="502.50" y="735.94" font-size="21.5" text-anchor="middle" font-weight="normal" style="stroke-width:0.6px">*</text>
<rect x="326.30" y="604.60" width="13.40" height="13.80" fill="#fff" stroke="#2a2a2a" stroke-width="1.8"/>
<text x="348.20" y="617.90" font-size="15.7" text-anchor="start" font-weight="normal" >PBS</text>
<rect x="326.30" y="621.30" width="13.40" height="13.80" fill="#000" stroke="#2a2a2a" stroke-width="1.8"/>
<text x="348.20" y="634.60" font-size="15.7" text-anchor="start" font-weight="normal" >VEGF-C-Cys</text>
<text x="5.80" y="874.90" font-size="24.5" text-anchor="start" font-weight="bold" style="stroke-width:0.7px">E</text>
<line x1="60.60" y1="929.70" x2="60.60" y2="1040.60" stroke="#8c8c8c" stroke-width="1.1"/>
<line x1="57.40" y1="1040.60" x2="60.60" y2="1040.60" stroke="#8c8c8c" stroke-width="1.1"/>
<line x1="57.40" y1="985.15" x2="60.60" y2="985.15" stroke="#8c8c8c" stroke-width="1.1"/>
<line x1="57.40" y1="929.70" x2="60.60" y2="929.70" stroke="#8c8c8c" stroke-width="1.1"/>
<text x="56.00" y="1046.10" font-size="15.7" text-anchor="end" font-weight="normal" >0</text>
<text x="56.00" y="990.65" font-size="15.7" text-anchor="end" font-weight="normal" >5</text>
<text x="56.00" y="935.20" font-size="15.7" text-anchor="end" font-weight="normal" >10</text>
<line x1="60.60" y1="1040.60" x2="176.90" y2="1040.60" stroke="#8c8c8c" stroke-width="1.1"/>
<text x="115.80" y="1060.60" font-size="15.7" text-anchor="middle" font-weight="normal" >Treatment</text>
<text transform="translate(22.90,1070.40) rotate(-90)" font-size="15.7" textLength="180.70" lengthAdjust="spacing"><tspan baseline-shift="0" font-size="15.7">CD41</tspan><tspan baseline-shift="5.2" font-size="10.5">+</tspan><tspan baseline-shift="0" font-size="15.7"> bone marrow cells</tspan></text>
<text transform="translate(41.80,1007.10) rotate(-90)" font-size="15.7" textLength="58.70" lengthAdjust="spacing"><tspan baseline-shift="0" font-size="15.7">(% total)</tspan></text>
<line x1="85.10" y1="943.56" x2="85.10" y2="948.55" stroke="#111" stroke-width="1.25"/>
<line x1="83.20" y1="943.56" x2="87.00" y2="943.56" stroke="#111" stroke-width="1.25"/>
<line x1="83.20" y1="948.55" x2="87.00" y2="948.55" stroke="#111" stroke-width="1.25"/>
<rect x="77.00" y="948.55" width="16.20" height="92.05" fill="#fff" stroke="#2a2a2a" stroke-width="1.2"/>
<line x1="118.70" y1="952.43" x2="118.70" y2="959.64" stroke="#111" stroke-width="1.25"/>
<line x1="116.80" y1="952.43" x2="120.60" y2="952.43" stroke="#111" stroke-width="1.25"/>
<line x1="116.80" y1="959.64" x2="120.60" y2="959.64" stroke="#111" stroke-width="1.25"/>
<rect x="110.60" y="959.64" width="16.20" height="80.96" fill="#c0c0c0" stroke="#2a2a2a" stroke-width="1.2"/>
<line x1="152.20" y1="945.78" x2="152.20" y2="950.77" stroke="#111" stroke-width="1.25"/>
<line x1="150.30" y1="945.78" x2="154.10" y2="945.78" stroke="#111" stroke-width="1.25"/>
<line x1="150.30" y1="950.77" x2="154.10" y2="950.77" stroke="#111" stroke-width="1.25"/>
<rect x="144.10" y="950.77" width="16.20" height="89.83" fill="#000" stroke="#2a2a2a" stroke-width="1.2"/>
<rect x="62.70" y="865.10" width="13.60" height="13.40" fill="#fff" stroke="#2a2a2a" stroke-width="1.8"/>
<text x="80.10" y="877.30" font-size="15.7" text-anchor="start" font-weight="normal" >PBS</text>
<rect x="62.70" y="883.50" width="13.60" height="13.40" fill="#c0c0c0" stroke="#2a2a2a" stroke-width="1.8"/>
<text x="80.10" y="895.30" font-size="15.7" text-anchor="start" font-weight="normal" >Isotype</text>
<rect x="62.70" y="901.90" width="13.60" height="13.40" fill="#000" stroke="#2a2a2a" stroke-width="1.8"/>
<text x="80.10" y="913.30" font-size="15.7" text-anchor="start" font-weight="normal" >anti-VEGFR-3</text>
<text x="272.40" y="873.80" font-size="24.5" text-anchor="start" font-weight="bold" style="stroke-width:0.7px">H</text>
<line x1="331.60" y1="927.80" x2="331.60" y2="1039.80" stroke="#8c8c8c" stroke-width="1.1"/>
<line x1="328.40" y1="1039.80" x2="331.60" y2="1039.80" stroke="#8c8c8c" stroke-width="1.1"/>
<line x1="328.40" y1="1002.47" x2="331.60" y2="1002.47" stroke="#8c8c8c" stroke-width="1.1"/>
<line x1="328.40" y1="965.13" x2="331.60" y2="965.13" stroke="#8c8c8c" stroke-width="1.1"/>
<line x1="328.40" y1="927.80" x2="331.60" y2="927.80" stroke="#8c8c8c" stroke-width="1.1"/>
<text x="326.60" y="1045.30" font-size="15.7" text-anchor="end" font-weight="normal" >0</text>
<text x="326.60" y="1007.97" font-size="15.7" text-anchor="end" font-weight="normal" >5</text>
<text x="326.60" y="970.63" font-size="15.7" text-anchor="end" font-weight="normal" >10</text>
<text x="326.60" y="933.30" font-size="15.7" text-anchor="end" font-weight="normal" >15</text>
<line x1="331.60" y1="1039.80" x2="450.20" y2="1039.80" stroke="#8c8c8c" stroke-width="1.1"/>
<text x="390.80" y="1060.60" font-size="15.7" text-anchor="middle" font-weight="normal" >Treatment</text>
<text transform="translate(287.10,1070.40) rotate(-90)" font-size="15.7" textLength="180.60" lengthAdjust="spacing"><tspan baseline-shift="0" font-size="15.7">CD41</tspan><tspan baseline-shift="5.2" font-size="10.5">+</tspan><tspan baseline-shift="0" font-size="15.7"> bone marrow cells</tspan></text>
<text transform="translate(306.20,1006.80) rotate(-90)" font-size="15.7" textLength="58.70" lengthAdjust="spacing"><tspan baseline-shift="0" font-size="15.7">(% total)</tspan></text>
<line x1="366.80" y1="981.19" x2="366.80" y2="986.79" stroke="#111" stroke-width="1.25"/>
<line x1="364.90" y1="981.19" x2="368.70" y2="981.19" stroke="#111" stroke-width="1.25"/>
<line x1="364.90" y1="986.79" x2="368.70" y2="986.79" stroke="#111" stroke-width="1.25"/>
<rect x="354.50" y="986.79" width="24.60" height="53.01" fill="#fff" stroke="#2a2a2a" stroke-width="1.2"/>
<line x1="414.80" y1="943.85" x2="414.80" y2="953.19" stroke="#111" stroke-width="1.25"/>
<line x1="412.90" y1="943.85" x2="416.70" y2="943.85" stroke="#111" stroke-width="1.25"/>
<line x1="412.90" y1="953.19" x2="416.70" y2="953.19" stroke="#111" stroke-width="1.25"/>
<rect x="402.90" y="953.19" width="23.80" height="86.61" fill="#000" stroke="#2a2a2a" stroke-width="1.2"/>
<text x="409.50" y="947.94" font-size="21.5" text-anchor="middle" font-weight="normal" style="stroke-width:0.6px">*</text>
<text x="418.70" y="947.94" font-size="21.5" text-anchor="middle" font-weight="normal" style="stroke-width:0.6px">*</text>
<rect x="331.70" y="884.70" width="12.60" height="13.60" fill="#fff" stroke="#2a2a2a" stroke-width="1.8"/>
<text x="349.00" y="896.70" font-size="15.7" text-anchor="start" font-weight="normal" >PBS</text>
<rect x="331.70" y="902.10" width="12.60" height="13.60" fill="#000" stroke="#2a2a2a" stroke-width="1.8"/>
<text x="349.00" y="913.10" font-size="15.7" text-anchor="start" font-weight="normal" >VEGF-C-Cys</text>
</svg>
</body></html>
